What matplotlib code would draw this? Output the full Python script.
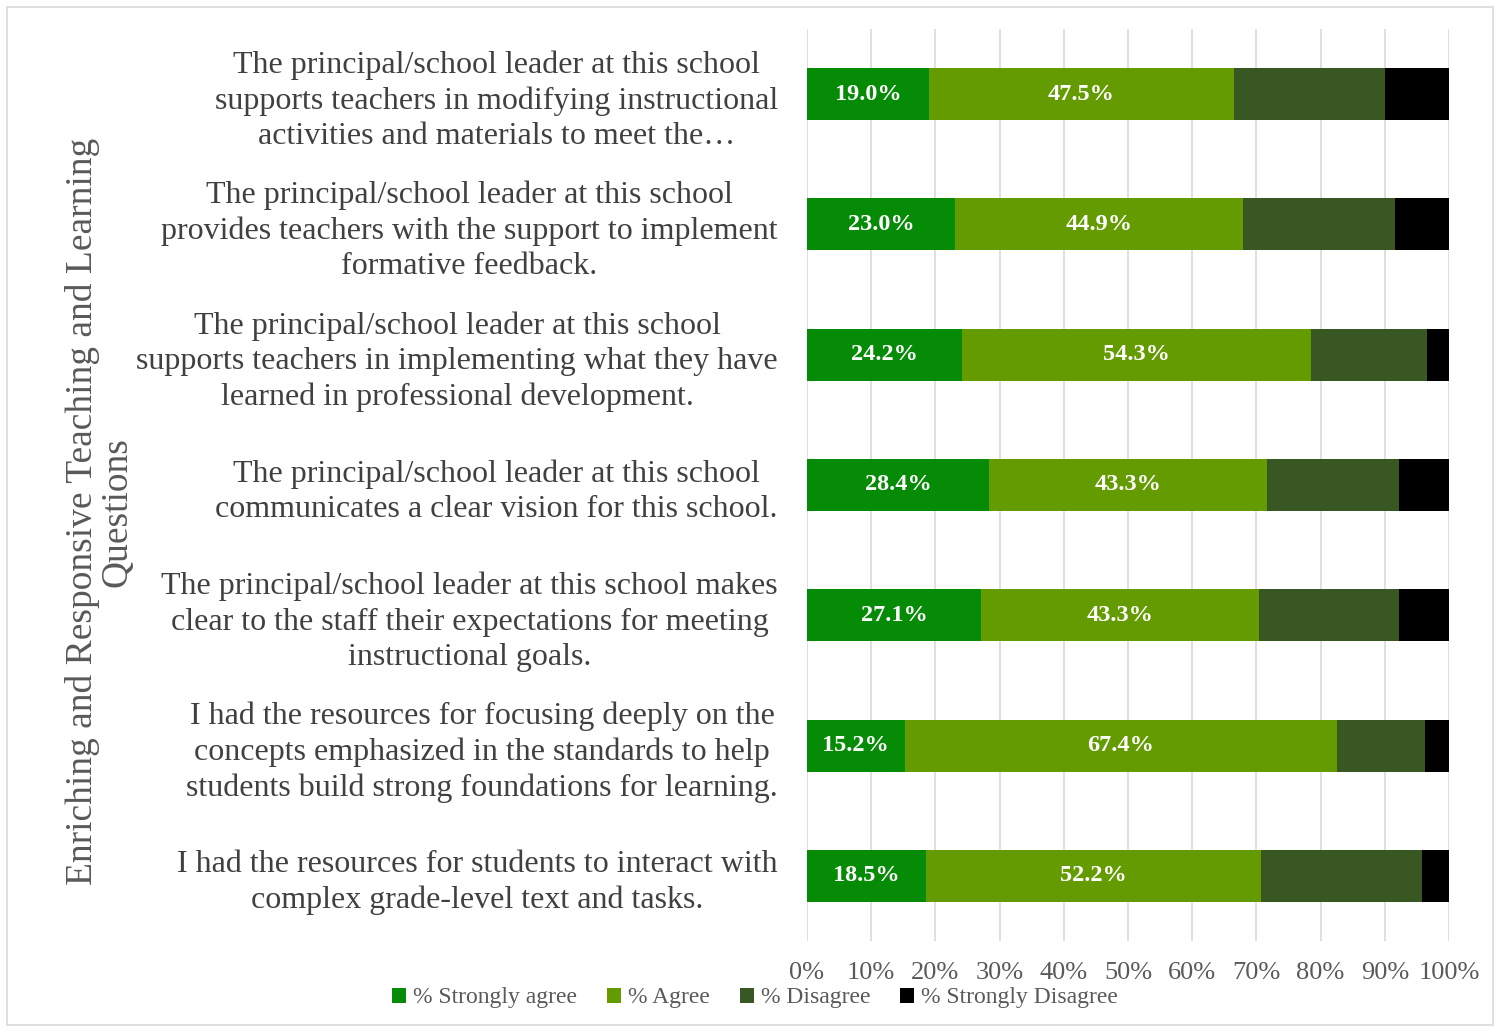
import matplotlib
matplotlib.use("Agg")
import matplotlib.pyplot as plt
from matplotlib.patches import Rectangle

QUESTIONS = [
    "The principal/school leader at this school\nsupports teachers in modifying instructional\nactivities and materials to meet the\u2026",
    "The principal/school leader at this school\nprovides teachers with the support to implement\nformative feedback.",
    "The principal/school leader at this school\nsupports teachers in implementing what they have\nlearned in professional development.",
    "The principal/school leader at this school\ncommunicates a clear vision for this school.",
    "The principal/school leader at this school makes\nclear to the staff their expectations for meeting\ninstructional goals.",
    "I had the resources for focusing deeply on the\nconcepts emphasized in the standards to help\nstudents build strong foundations for learning.",
    "I had the resources for students to interact with\ncomplex grade-level text and tasks.",
]
STRONGLY_AGREE = [19.0, 23.0, 24.2, 28.4, 27.1, 15.2, 18.5]
AGREE = [47.5, 44.9, 54.3, 43.3, 43.3, 67.4, 52.2]
DISAGREE = [23.5, 23.7, 18.1, 20.5, 21.8, 13.7, 25.1]
STRONGLY_DISAGREE = [10.0, 8.4, 3.4, 7.8, 7.8, 3.7, 4.2]
SERIES = ["% Strongly agree", "% Agree", "% Disagree", "% Strongly Disagree"]
COLORS = ["#058B05", "#639B00", "#385723", "#000000"]

plt.rcParams["font.family"] = ["Liberation Serif", "DejaVu Serif"]

fig = plt.figure(figsize=(15.02, 10.32), dpi=100)
fig.patches.append(Rectangle((7 / 1502, 7 / 1032), 1486 / 1502, 1018 / 1032,
                             transform=fig.transFigure, fill=False,
                             edgecolor="#D9D9D9", lw=1.2))
ax = fig.add_axes([807 / 1502, 1 - 941 / 1032, 642 / 1502, 912 / 1032])

ypos = list(range(len(QUESTIONS)))
left = [0.0] * len(QUESTIONS)
data = [STRONGLY_AGREE, AGREE, DISAGREE, STRONGLY_DISAGREE]
for i, (vals, name, col) in enumerate(zip(data, SERIES, COLORS)):
    bars = ax.barh(ypos, vals, left=left, height=0.4, color=col, label=name,
                   zorder=3)
    if i < 2:
        ax.bar_label(bars, labels=[f"{v:.1f}%" for v in vals],
                     label_type="center", color="white", fontsize=17.5,
                     fontweight="bold")
    left = [a + b for a, b in zip(left, vals)]

ax.set_xlim(0, 100)
ax.set_ylim(len(QUESTIONS) - 0.5, -0.5)
ax.set_xticks(range(0, 101, 10))
ax.set_xticklabels([f"{t}%" for t in range(0, 101, 10)])
ax.set_yticks(ypos)
ax.set_yticklabels(QUESTIONS, fontsize=23, color="#404040",
                   multialignment="center", linespacing=1.28)
ax.tick_params(axis="y", length=0, pad=21)
ax.tick_params(axis="x", length=0, labelsize=19, labelcolor="#595959", pad=15)
ax.grid(axis="x", color="#D9D9D9", lw=1.2, zorder=0)
for s in ax.spines.values():
    s.set_visible(False)

fig.text(100 / 1502, 0.504, "Enriching and Responsive Teaching and Learning\nQuestions",
         rotation=90, ha="center", va="center", fontsize=27, color="#595959",
         multialignment="center", linespacing=1.0)

fig.legend(loc="center", bbox_to_anchor=(755 / 1502, 1 - 998 / 1032),
           ncol=4, frameon=False, fontsize=17, handlelength=0.6,
           handleheight=0.6, handletextpad=0.3, columnspacing=1.25,
           labelcolor="#595959")

fig.savefig("out.png", dpi=100)
